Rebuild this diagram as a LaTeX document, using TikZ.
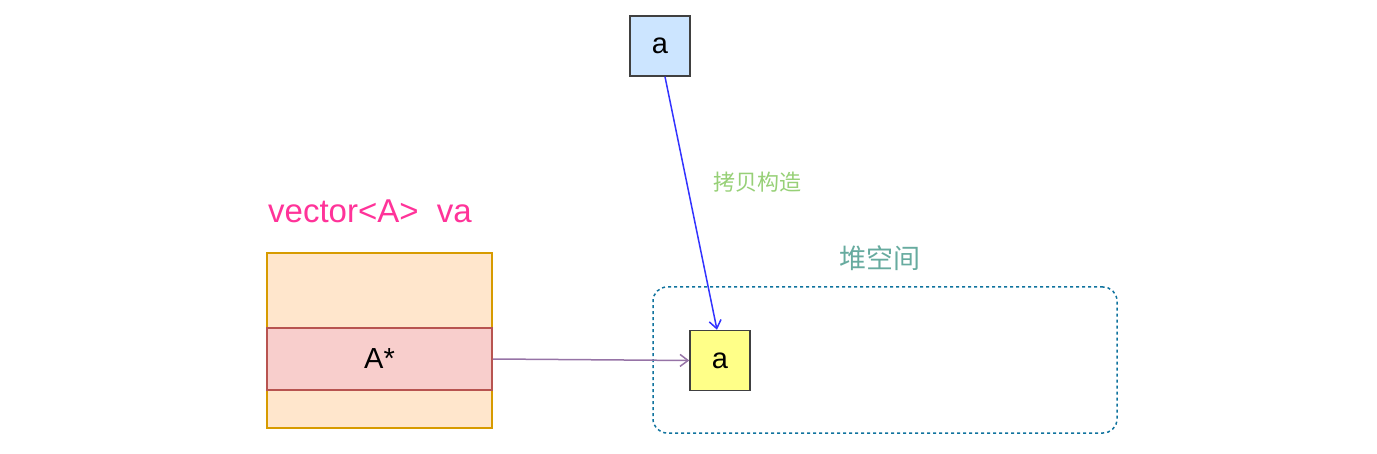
\documentclass[tikz,border=0pt]{standalone}
\usepackage{fontspec}
\setmainfont{Liberation Sans}
\newfontfamily\cjk{Noto Sans CJK SC}
\usetikzlibrary{arrows.meta}
\definecolor{bl}{HTML}{CCE5FF}\definecolor{yl}{HTML}{FFFF88}
\definecolor{gr}{HTML}{97D077}\definecolor{tl}{HTML}{67AB9F}
\definecolor{ds}{HTML}{10739E}\definecolor{pk}{HTML}{FF3399}
\definecolor{orf}{HTML}{FFE6CC}\definecolor{ord}{HTML}{D79B00}
\definecolor{rf}{HTML}{F8CECC}\definecolor{rd}{HTML}{B85450}
\definecolor{pu}{HTML}{9673A6}\definecolor{ab}{HTML}{3333FF}
\begin{document}
\begin{tikzpicture}[x=1pt,y=-1pt,
 box/.style={draw=black!75,line width=1.5pt,minimum width=60pt,minimum height=60pt,inner sep=0pt,font=\fontsize{29}{30}\selectfont},
 arr/.style={line width=1.5pt,-{Straight Barb[length=8pt,width=12pt]}}]
\useasboundingbox (0,0) rectangle (1377,454);
\node[box,fill=bl] (t) at (660,46) {a};
\node[box,fill=yl] (y) at (720,360.5) {a};
\node[draw=ds,dashed,line width=1.5pt,rounded corners=14pt,minimum width=464pt,minimum height=146pt] (heap) at (885,360) {};
\node[text=tl,font=\cjk\fontsize{27}{28}\selectfont] (hl) at (880,258) {堆空间};
\node[text=gr,font=\cjk\fontsize{22}{24}\selectfont] (cl) at (757,182) {拷贝构造};
\node[draw=ord,fill=orf,line width=1.5pt,minimum width=225pt,minimum height=175pt] (v) at (379.5,340.5) {};
\node[draw=rd,fill=rf,line width=1.5pt,minimum width=225pt,minimum height=62pt,font=\fontsize{29}{30}\selectfont] (as) at (379.5,359) {A*};
\node[text=pk,font=\fontsize{33}{34}\selectfont] (vl) at (370,211) {vector<A>~~va};
\draw[arr,ab] (t.south) ++(5,0) coordinate (ts) -- ([xshift=-3pt]y.north);
\draw[arr,pu] (as.east) -- (y.west);
\end{tikzpicture}
\end{document}
